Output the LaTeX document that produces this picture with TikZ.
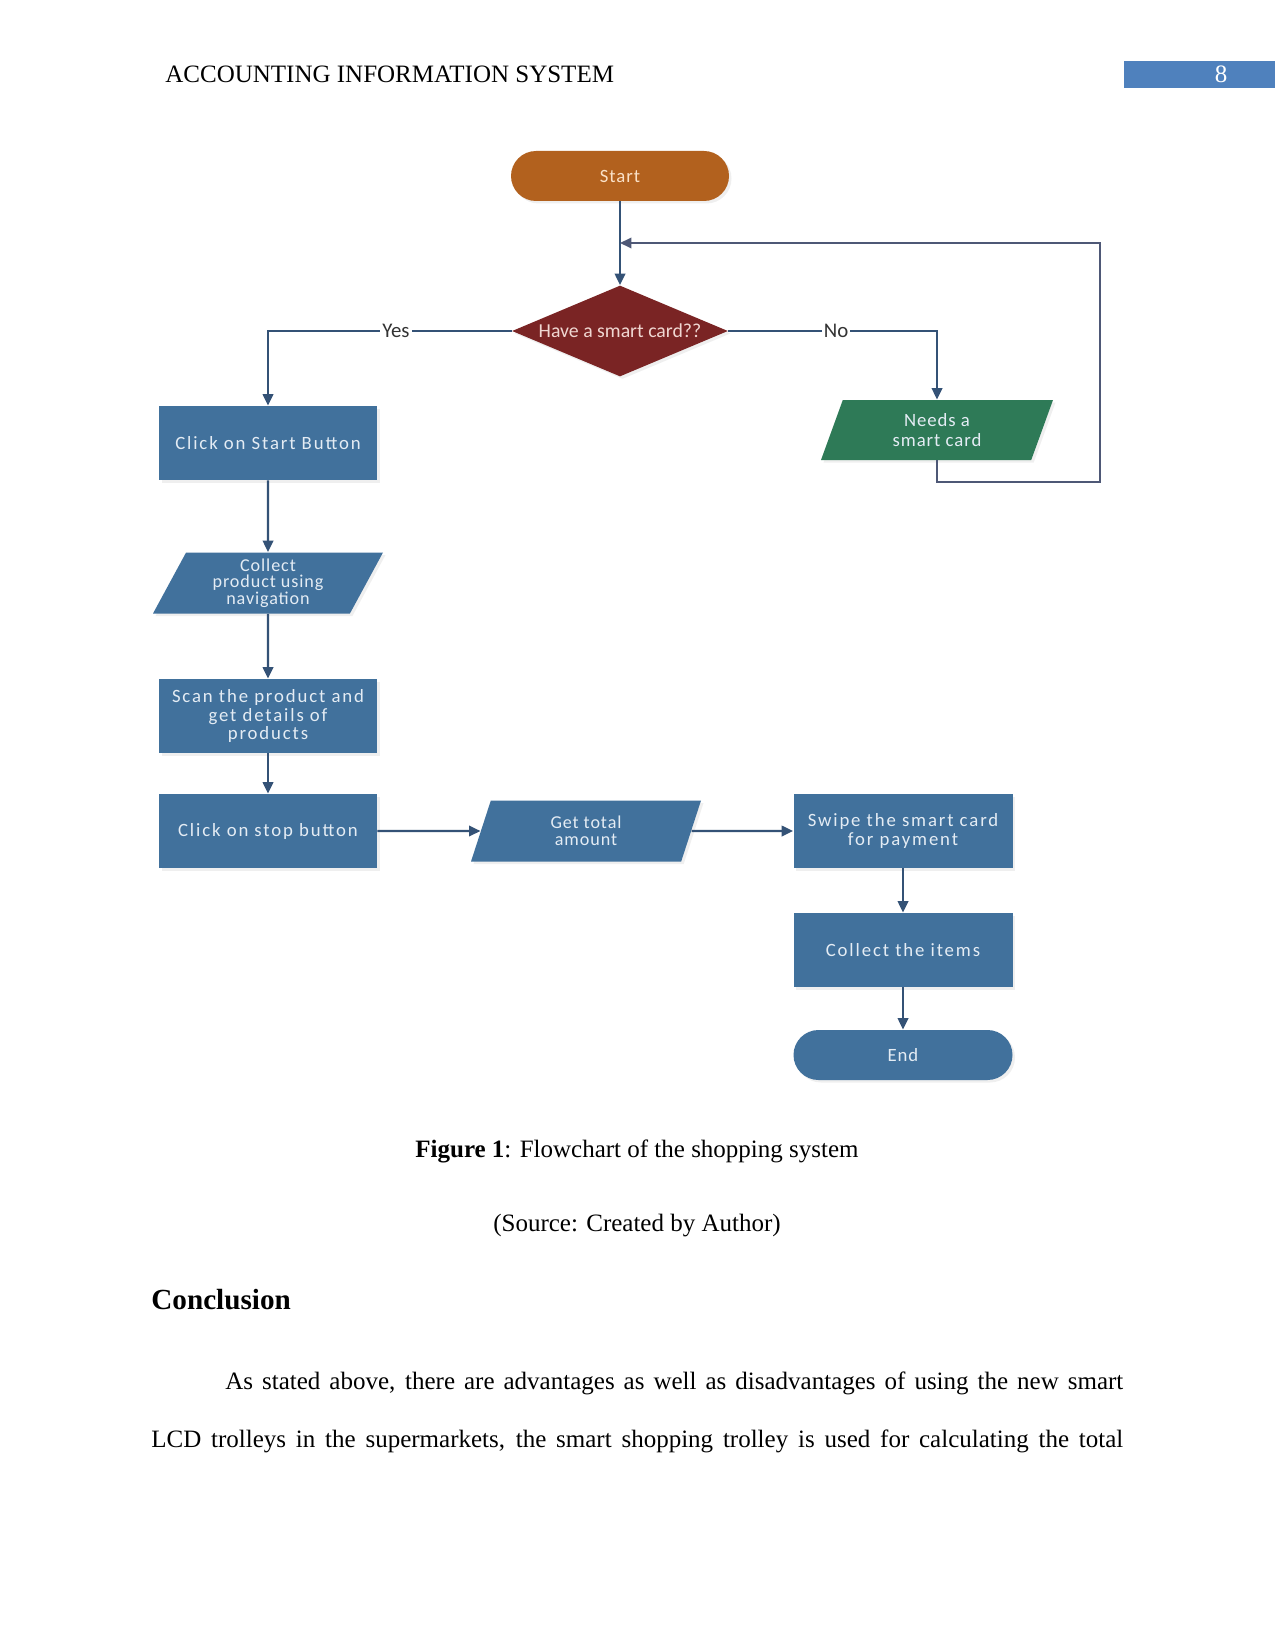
\documentclass[tikz,border=0pt]{standalone}
\usepackage{fontspec}
\setmainfont{Liberation Serif}
\newfontfamily\flowfont[LetterSpace=5]{Carlito}
\newfontfamily\flowfontw[LetterSpace=10]{Carlito}
\newfontfamily\flowfontn{Carlito}
\usetikzlibrary{arrows.meta,shadows,shapes.geometric}
\definecolor{fbrown}{RGB}{178,97,30}
\definecolor{fred}{RGB}{122,36,36}
\definecolor{fblue}{RGB}{65,113,156}
\definecolor{fgreen}{RGB}{46,122,87}
\definecolor{fline}{RGB}{52,82,118}
\definecolor{floop}{RGB}{78,88,118}
\definecolor{ftext}{RGB}{228,236,244}
\definecolor{hdrblue}{RGB}{79,129,189}
\tikzset{
  conn/.style={draw=fline, line width=1.1pt},
  arr/.style={conn, -{Triangle[length=5.5pt,width=5pt]}},
  shad/.style={drop shadow={shadow xshift=1.2pt, shadow yshift=-1.2pt, opacity=0.12}},
  flowtxt/.style={text=ftext, align=center, inner sep=0pt, font=\flowfont\fontsize{9pt}{9pt}\selectfont},
  box/.style={flowtxt, shad, rectangle, fill=fblue, minimum width={218*0.48pt}, minimum height={74*0.48pt},
    font=\flowfontw\fontsize{9pt}{9pt}\selectfont},
  term/.style={flowtxt, shad, rectangle, rounded corners=12pt, minimum width={218*0.48pt}, minimum height={50*0.48pt}},
  para/.style={flowtxt, shad, trapezium, trapezium left angle=56, trapezium right angle=124,
    trapezium stretches body, minimum width={230*0.48pt}, minimum height={61*0.48pt}},
  lbl/.style={fill=white, inner sep=1pt, text=black!80, font=\flowfontn\fontsize{10pt}{10pt}\selectfont},
  serif/.style={inner sep=0pt, font=\fontsize{12pt}{14pt}\selectfont},
}
\begin{document}
\begin{tikzpicture}[x=0.48pt,y=-0.48pt]
\useasboundingbox[fill=white] (0,0) rectangle (1275,1651);
% header
\node[serif, anchor=base west] (hdr) at (165,83) {ACCOUNTING INFORMATION SYSTEM};
\fill[hdrblue] (1124,61) rectangle (1275,88);
\node[serif, anchor=base, text=white] (pg) at (1221,83) {8};
% flowchart nodes
\node[term, fill=fbrown, text={rgb,255:red,250;green,225;blue,200}] (start) at (620,176) {Start};
\node[flowtxt, shad, diamond, aspect=2.37, fill=fred, minimum width={216*0.48pt}, minimum height={91*0.48pt},
      text={rgb,255:red,240;green,215;blue,210}, font=\flowfontn\fontsize{9.5pt}{9.5pt}\selectfont] (dia) at (620,331) {Have a smart card??};
\node[box] (csb) at (268,443) {Click on Start Button};
\node[para, fill=fblue, font=\flowfont\fontsize{8.7pt}{8pt}\selectfont] (coll) at (268,583) {Collect\\product using\\navigation};
\node[box] (scan) at (268,716) {Scan the product and\\get details of\\products};
\node[box] (stop) at (268,831) {Click on stop button};
\node[para, fill=fblue, font=\flowfont\fontsize{8.7pt}{8pt}\selectfont] (total) at (586,831) {Get total\\amount};
\node[box, minimum width={219*0.48pt}] (swipe) at (903,831) {Swipe the smart card\\for payment};
\node[box, minimum width={219*0.48pt}] (items) at (903,950) {Collect the items};
\node[term, fill=fblue, minimum width={219*0.48pt}] (end) at (903,1055) {End};
\node[para, fill=fgreen, minimum width={232*0.48pt}, minimum height={60*0.48pt},
      font=\flowfont\fontsize{9pt}{9.2pt}\selectfont] (needs) at (937,430) {Needs a\\smart card};
% connectors
\draw[arr] (start.south) -- (dia.north);
\draw[arr] (dia.west) -| (csb.north);
\draw[arr] (dia.east) -| (needs.north);
\node[lbl] (yes) at (396,331) {Yes};
\node[lbl] (no) at (836,331) {No};
\coordinate (fb1) at (1100,482);
\coordinate (fbend) at (620,243);
\draw[conn, draw=floop, -{Triangle[length=5.5pt,width=5pt]}] (needs.south) |- (fb1) |- (fbend);
\draw[arr] (csb) -- (coll);
\draw[arr] (coll) -- (scan);
\draw[arr] (scan) -- (stop);
\draw[arr] (stop) -- (total);
\draw[arr] (total) -- (swipe);
\draw[arr] (swipe) -- (items);
\draw[arr] (items) -- (end);
% caption and text
\node[serif, anchor=base] (cap) at (637,1157) {\textbf{Figure 1}: Flowchart of the shopping system};
\node[serif, anchor=base] (src) at (637,1231) {(Source: Created by Author)};
\node[inner sep=0pt, anchor=base west, font=\bfseries\fontsize{14pt}{16pt}\selectfont] (concl) at (151,1309) {Conclusion};
\node[serif, anchor=base west] (p1) at (225,1389) {\makebox[431pt][s]{As stated above, there are advantages as well as disadvantages of using the new smart}};
\node[serif, anchor=base west] (p2) at (151,1447) {\makebox[466.5pt][s]{LCD trolleys in the supermarkets, the smart shopping trolley is used for calculating the total}};
\end{tikzpicture}
\end{document}
